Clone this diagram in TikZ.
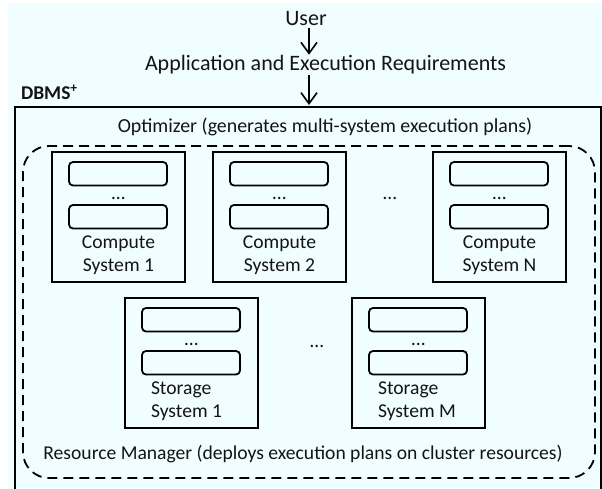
\documentclass[tikz,border=0pt]{standalone}
\usepackage{fontspec}
\setmainfont{Carlito}
\usetikzlibrary{arrows.meta}
\definecolor{paper}{RGB}{240,254,255}
\definecolor{ink}{RGB}{20,20,20}
\tikzset{
  every node/.style={font=\fontsize{19.6}{23}\selectfont, inner sep=0pt, outer sep=0pt, text=ink},
  big/.style={font=\fontsize{22}{26}\selectfont},
  frame/.style={draw, line width=1.8pt, minimum width=133pt, minimum height=130pt, anchor=north west},
  slot/.style={draw, line width=1.8pt, rounded corners=4pt, minimum width=98pt, minimum height=23.5pt, anchor=north west},
  flow/.style={-{Straight Barb[length=11pt,width=16pt]}, line width=1.6pt},
}
\begin{document}
\begin{tikzpicture}[x=1pt,y=-1pt]
  \clip (0,0) rectangle (602,489);
  \fill[paper] (8,3) rectangle (602,489);

  % requests coming from the user
  \node[big, anchor=base] (user) at (306,25.5) {User};
  \node[big, anchor=base west] (app) at (145,71) {Application and Execution Requirements};
  \coordinate (ax) at (309,0);

  % the DBMS+ frame and its optimizer layer
  \node[anchor=base west, font=\fontsize{19.5}{23}\selectfont\bfseries] (dbmslabel) at (21,100) {DBMS\textsuperscript{+}};
  \node[draw, line width=1.8pt, minimum width=586pt, minimum height=420pt, anchor=north west] (dbms) at (15,107) {};
  \node[anchor=base, font=\fontsize{19.9}{23}\selectfont] (opt) at (325,133) {Optimizer (generates multi-system execution plans)};

  \draw[flow, shorten <=2.5pt, shorten >=1pt] (user.south -| ax) -- (app.north -| ax);
  \draw[flow, shorten <=0.5pt, shorten >=2pt] (app.south -| ax) -- (dbms.north -| ax);

  % cluster managed by the resource manager
  \node[draw, line width=1.8pt, dash pattern=on 10pt off 6pt, rounded corners=26pt,
        minimum width=572pt, minimum height=332pt, anchor=north west] (cluster) at (23,146) {};
  \node[anchor=base] (rm) at (303,459) {Resource Manager (deploys execution plans on cluster resources)};

  % compute systems
  \foreach \nm/\bx/\by/\ln in {cs1/52/152/1, cs2/213/152/2, csn/433/152/N} {
    \node[frame] (\nm) at (\bx,\by) {};
    \node[slot] (\nm-top) at (\bx+17,\by+10) {};
    \node[slot] (\nm-bot) at (\bx+17,\by+53) {};
    \node[anchor=base] (\nm-dots) at (\bx+66.5,\by+47.5) {…};
    \node[anchor=base] (\nm-l1) at (\bx+66.5,\by+96) {Compute};
    \node[anchor=base] (\nm-l2) at (\bx+66.5,\by+119) {System \ln};
  }
  \node[anchor=base] (cgap) at (390,199.5) {…};

  % storage systems
  \foreach \nm/\bx/\by/\ln in {ss1/125/298/1, ssm/352/298/M} {
    \node[frame] (\nm) at (\bx,\by) {};
    \node[slot] (\nm-top) at (\bx+17,\by+10) {};
    \node[slot] (\nm-bot) at (\bx+17,\by+53) {};
    \node[anchor=base] (\nm-dots) at (\bx+66.5,\by+47.5) {…};
    \node[anchor=base west] (\nm-l1) at (\bx+26,\by+96) {Storage};
    \node[anchor=base west] (\nm-l2) at (\bx+26,\by+119) {System \ln};
  }
  \node[anchor=base] (sgap) at (317,347) {…};
\end{tikzpicture}
\end{document}
